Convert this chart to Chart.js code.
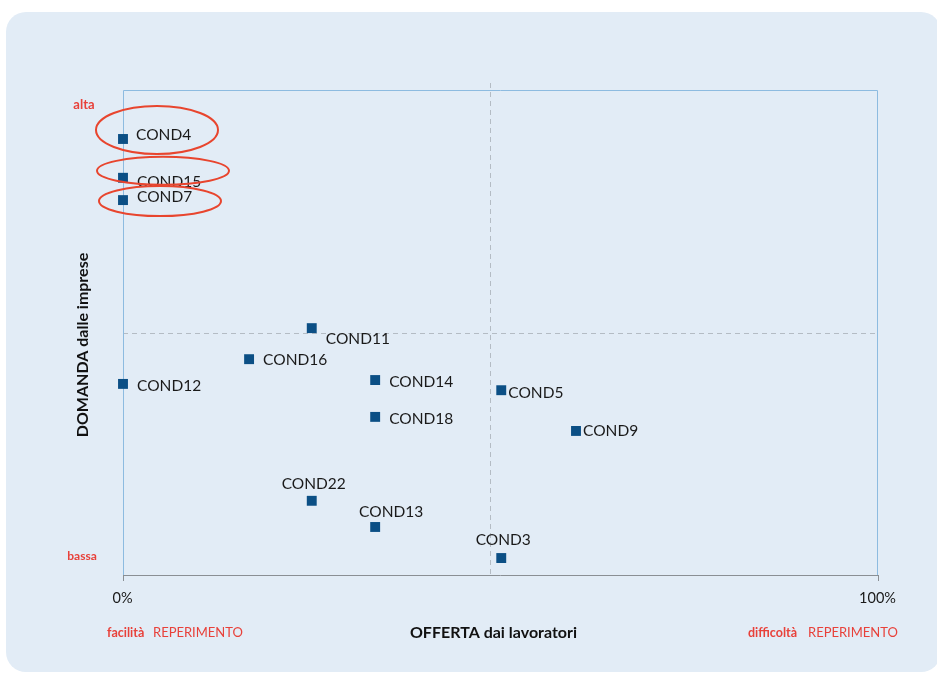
<!DOCTYPE html>
<html>
<head>
<meta charset="utf-8">
<script src="https://cdn.jsdelivr.net/npm/chart.js@4.4.0/dist/chart.umd.min.js"></script>
<style>
  html, body { margin: 0; padding: 0; background: #ffffff; overflow: hidden; }
  #panel { position: absolute; left: 6px; top: 12px; width: 935px; height: 660px; border-radius: 20px; background: #e2ecf6; }
  #wrap { position: absolute; left: 0; top: 0; width: 937px; height: 676px; }
</style>
</head>
<body>
<div id="panel"></div>
<div id="wrap"><canvas id="c" width="937" height="676"></canvas></div>
<script>
// ---- data ----
const categories = ["COND4","COND15","COND7","COND11","COND16","COND12","COND14","COND5","COND18","COND9","COND22","COND13","COND3"];
const offertaValues = [0, 0, 0, 25.0, 16.7, 0, 33.4, 50.1, 33.4, 60.0, 25.0, 33.4, 50.1];
const domandaValues = [89.9, 81.9, 77.3, 50.9, 44.5, 39.4, 40.2, 38.1, 32.6, 29.7, 15.3, 9.9, 3.5];
const xTickLabels = ["0%", "100%"];
const xTickValues = [0, 100];
const xMidLine = 48.6;
const yMidLine = 50;
const highlighted = ["COND4", "COND15", "COND7"];

// label placement (style only): dx, dy relative to point, align
const labelPlace = {
  COND4: [13, -4, 'left'], COND15: [14, 4, 'left'], COND7: [14, -3, 'left'],
  COND11: [14, 11, 'left'], COND16: [14, 1, 'left'], COND12: [14, 2, 'left'],
  COND14: [14, 2, 'left'], COND5: [7, 3, 'left'], COND18: [14, 2, 'left'],
  COND9: [7, 0, 'left'], COND22: [2, -17, 'center'], COND13: [16, -15, 'center'],
  COND3: [2, -18, 'center']
};
const ellipses = { COND4: [34, -9, 61, 24], COND15: [40, -7, 66, 14], COND7: [37, 1, 61, 15] };

const points = categories.map((c, i) => ({ x: offertaValues[i], y: domandaValues[i], label: c }));

const RED = '#e8413a';
const decor = {
  id: 'decor',
  beforeDatasetsDraw(chart) {
    const { ctx, chartArea: a, scales: { x, y } } = chart;
    ctx.save();
    // dashed mid lines
    ctx.strokeStyle = '#b4bcc4';
    ctx.lineWidth = 1;
    ctx.setLineDash([5, 4]);
    const vx = Math.round(x.getPixelForValue(xMidLine)) + 0.5;
    ctx.beginPath(); ctx.moveTo(vx, a.top - 7); ctx.lineTo(vx, a.bottom); ctx.stroke();
    const hy = Math.round(y.getPixelForValue(yMidLine)) + 0.5;
    ctx.beginPath(); ctx.moveTo(a.left, hy); ctx.lineTo(a.right, hy); ctx.stroke();
    ctx.setLineDash([]);
    // borders
    ctx.strokeStyle = '#8dbbe0';
    ctx.beginPath();
    ctx.moveTo(a.left + 0.5, a.bottom); ctx.lineTo(a.left + 0.5, a.top + 0.5);
    ctx.lineTo(a.right - 0.5, a.top + 0.5); ctx.lineTo(a.right - 0.5, a.bottom);
    ctx.stroke();
    ctx.strokeStyle = '#8a8f94';
    ctx.beginPath(); ctx.moveTo(a.left, a.bottom + 0.5); ctx.lineTo(a.right, a.bottom + 0.5); ctx.stroke();
    // ticks
    ctx.fillStyle = '#1a1a1a';
    ctx.font = '14.5px Lato';
    ctx.textAlign = 'center';
    ctx.textBaseline = 'middle';
    xTickValues.forEach((v, i) => {
      const px = Math.round(x.getPixelForValue(v)) + 0.5;
      ctx.beginPath(); ctx.moveTo(px, a.bottom); ctx.lineTo(px, a.bottom + 6); ctx.stroke();
      ctx.fillText(xTickLabels[i], px - 1, a.bottom + 23);
    });
    // axis titles
    ctx.font = 'bold 16px Lato';
    ctx.fillStyle = '#111';
    ctx.fillText('OFFERTA dai lavoratori', (a.left + a.right) / 2 - 7, 633);
    ctx.save();
    ctx.translate(83, 345);
    ctx.rotate(-Math.PI / 2);
    ctx.fillText('DOMANDA dalle imprese', 0, 0);
    ctx.restore();
    // red annotations
    ctx.fillStyle = RED;
    ctx.font = 'bold 13px Lato';
    ctx.fillText('alta', 84, 105);
    ctx.font = 'bold 12px Lato';
    ctx.fillText('bassa', 82, 556);
    ctx.textAlign = 'left';
    ctx.font = 'bold 12.5px Lato';
    ctx.fillText('facilità', 107, 633);
    ctx.fillText('difficoltà', 748, 633);
    ctx.font = '13px Lato';
    ctx.fillText('REPERIMENTO', 153, 633);
    ctx.fillText('REPERIMENTO', 808, 633);
    ctx.restore();
  },
  afterDatasetsDraw(chart) {
    const { ctx } = chart;
    const meta = chart.getDatasetMeta(0);
    ctx.save();
    ctx.font = '15.5px Lato';
    ctx.fillStyle = '#1a1a1a';
    ctx.textBaseline = 'middle';
    meta.data.forEach((el, i) => {
      const name = categories[i];
      const p = labelPlace[name] || [12, 0, 'left'];
      ctx.textAlign = p[2];
      ctx.fillText(name, el.x + p[0], el.y + p[1]);
    });
    ctx.strokeStyle = '#e8452e';
    ctx.lineWidth = 2;
    meta.data.forEach((el, i) => {
      const name = categories[i];
      if (!highlighted.includes(name)) return;
      const e = ellipses[name];
      ctx.beginPath();
      ctx.ellipse(el.x + e[0], el.y + e[1], e[2], e[3], 0, 0, Math.PI * 2);
      ctx.stroke();
    });
    ctx.restore();
  }
};

new Chart(document.getElementById('c'), {
  type: 'scatter',
  data: {
    datasets: [{
      data: points,
      pointStyle: 'rect',
      pointRadius: 7,
      pointHoverRadius: 7,
      backgroundColor: '#0b4f85',
      borderColor: '#0b4f85',
      borderWidth: 0
    }]
  },
  options: {
    responsive: false,
    animation: false,
    layout: { padding: { left: 123, right: 59, top: 90, bottom: 101 } },
    plugins: { legend: { display: false }, tooltip: { enabled: false } },
    scales: {
      x: { type: 'linear', min: 0, max: 100, display: false },
      y: { type: 'linear', min: 0, max: 100, display: false }
    },
    clip: false
  },
  plugins: [decor]
});
</script>
</body>
</html>
